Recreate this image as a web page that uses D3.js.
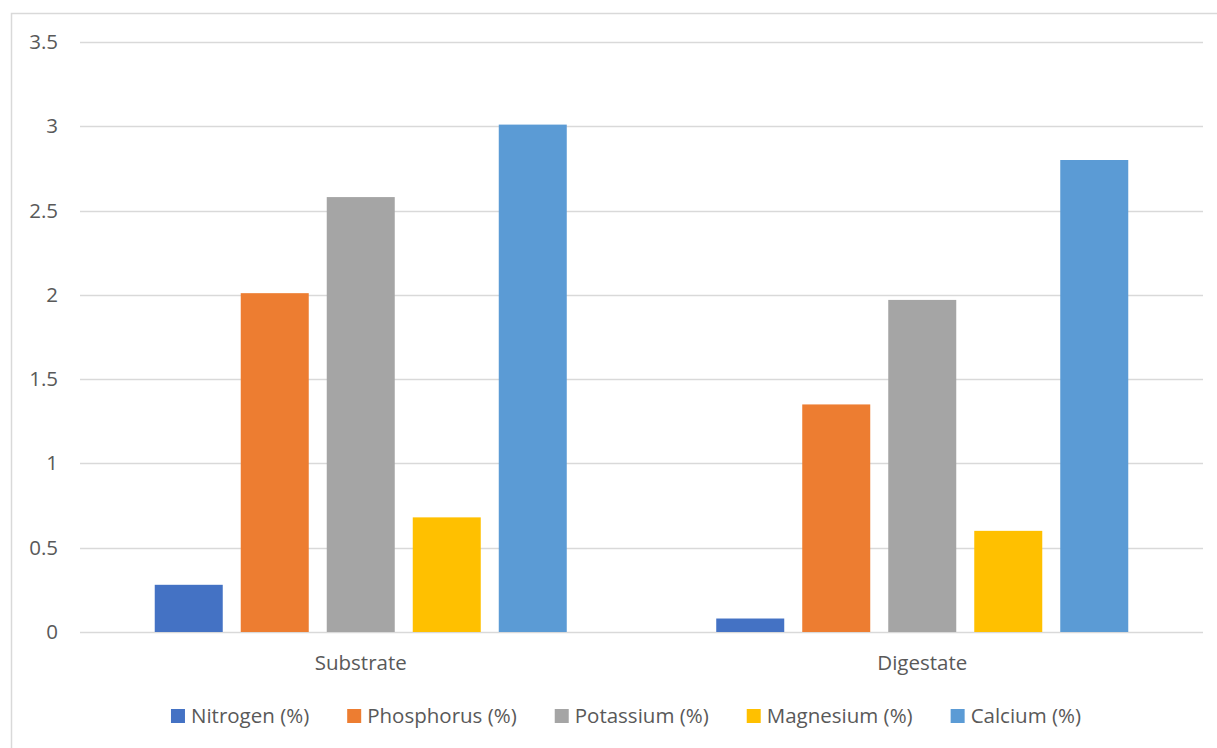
<!DOCTYPE html>
<html>
<head>
<meta charset="utf-8">
<script src="https://cdn.jsdelivr.net/npm/d3@7"></script>
<style>
  html, body { margin: 0; padding: 0; background: #fff; }
  svg text { font-family: "Open Sans", "Noto Sans", sans-serif; fill: #595959; }
</style>
</head>
<body>
<svg id="chart" width="1217" height="748"></svg>
<script>
// Nutrient content of substrate vs. digestate
const categories = ["Substrate", "Digestate"];
const seriesNames = ["Nitrogen (%)", "Phosphorus (%)", "Potassium (%)", "Magnesium (%)", "Calcium (%)"];
const seriesColors = ["#4472C4", "#ED7D31", "#A5A5A5", "#FFC000", "#5B9BD5"];
const nitrogen   = [0.28, 0.08];
const phosphorus = [2.01, 1.35];
const potassium  = [2.58, 1.97];
const magnesium  = [0.68, 0.60];
const calcium    = [3.01, 2.80];
const yTicks = [0, 0.5, 1, 1.5, 2, 2.5, 3, 3.5];

const seriesValues = [nitrogen, phosphorus, potassium, magnesium, calcium];

const FONT = 20.5;
const svg = d3.select("#chart");
const W = 1217, H = 748;
const plot = { left: 80, right: 1203, top: 42, bottom: 632 };

// chart frame
svg.append("rect")
  .attr("x", 11.5).attr("y", 13.5)
  .attr("width", W).attr("height", H)
  .attr("fill", "none").attr("stroke", "#d9d9d9").attr("stroke-width", 1.5);

const y = d3.scaleLinear().domain([0, 3.5]).range([plot.bottom, plot.top]);
const x0 = d3.scaleBand().domain(categories).range([plot.left, plot.right]).padding(0);
const x1 = d3.scaleBand().domain(seriesNames).range([0, x0.bandwidth()])
  .paddingInner(0.2093).paddingOuter(0.869);

// gridlines
svg.append("g").selectAll("line").data(yTicks).join("line")
  .attr("x1", plot.left).attr("x2", plot.right)
  .attr("y1", d => Math.round(y(d)) + 0.5).attr("y2", d => Math.round(y(d)) + 0.5)
  .attr("stroke", "#d9d9d9").attr("stroke-width", 1.5);

// y axis labels
const yAxis = svg.append("g").attr("transform", `translate(${plot.left - 22},0)`)
  .call(d3.axisLeft(y).tickValues(yTicks).tickSize(0).tickPadding(0).tickFormat(d3.format("")));
yAxis.select(".domain").remove();
yAxis.selectAll("text").attr("font-size", FONT).attr("fill", "#595959")
  .style("font-family", "'Open Sans', sans-serif");

// bars
const groups = svg.append("g").selectAll("g").data(categories).join("g")
  .attr("transform", c => `translate(${x0(c)},0)`);
groups.selectAll("rect")
  .data((c, ci) => seriesNames.map((s, si) => ({ s, si, v: seriesValues[si][ci] })))
  .join("rect")
  .attr("x", d => x1(d.s))
  .attr("width", x1.bandwidth())
  .attr("y", d => y(d.v))
  .attr("height", d => y(0) - y(d.v))
  .attr("fill", d => seriesColors[d.si]);

// category labels
const xAxis = svg.append("g").attr("transform", `translate(0,${plot.bottom + 23})`)
  .call(d3.axisBottom(x0).tickSize(0).tickPadding(0));
xAxis.select(".domain").remove();
xAxis.selectAll("text").attr("font-size", FONT).attr("fill", "#595959")
  .style("font-family", "'Open Sans', sans-serif");

// legend
const legend = svg.append("g");
const items = legend.selectAll("g").data(seriesNames).join("g");
items.append("rect").attr("width", 14).attr("height", 14).attr("y", -7)
  .attr("fill", (d, i) => seriesColors[i]);
items.append("text").attr("x", 20).attr("dy", "0.35em").attr("font-size", FONT).text(d => d);
const widths = [];
items.each(function () { widths.push(20 + this.querySelector("text").getComputedTextLength()); });
const gap = 38;
const total = d3.sum(widths) + gap * (widths.length - 1);
let cx = 626 - total / 2;
items.attr("transform", (d, i) => {
  const t = `translate(${cx},716)`;
  cx += widths[i] + gap;
  return t;
});
</script>
</body>
</html>
